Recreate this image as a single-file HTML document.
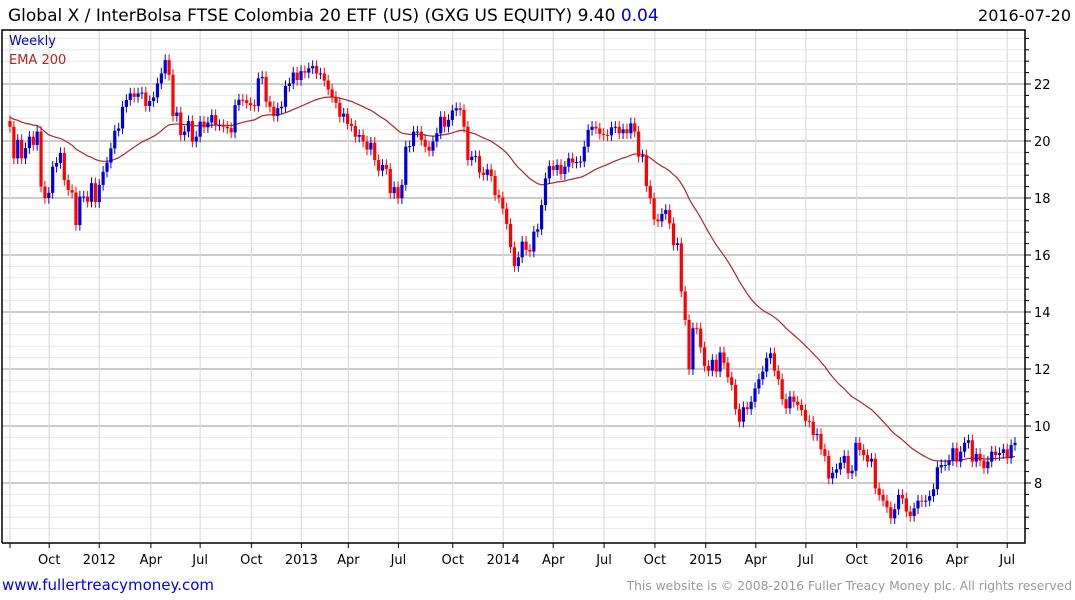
<!DOCTYPE html>
<html><head><meta charset="utf-8"><style>
body{margin:0;background:#fff;width:1075px;height:600px;overflow:hidden;font-family:"DejaVu Sans","Liberation Sans",sans-serif}
svg{display:block}
</style></head><body>
<svg id="chart" width="1075" height="600" xmlns="http://www.w3.org/2000/svg">
<text x="8" y="21" font-size="17" fill="#000">Global X / InterBolsa FTSE Colombia 20 ETF (US) (GXG US EQUITY) 9.40 <tspan fill="#0000cc">0.04</tspan></text>
<text x="1071" y="21" font-size="16" fill="#000" text-anchor="end">2016-07-20</text>
<g id="grid"></g>
<g id="ema"></g>
<g id="candles"></g>
<g id="axes"></g>
<text x="9" y="45" font-size="13" fill="#0000cc">Weekly</text>
<text x="9" y="64" font-size="13" fill="#b22222">EMA 200</text>
<text x="2" y="590" font-size="15" fill="#0000ee">www.fullertreacymoney.com</text>
<text x="1072" y="590" font-size="12.3" fill="#999" text-anchor="end">This website is © 2008-2016 Fuller Treacy Money plc. All rights reserved</text>
</svg>
<script>
const closes=[20.5,19.39,20.04,19.39,19.75,20.15,19.86,20.33,18.4,18.0,18.18,19.1,19.23,19.58,18.63,18.28,18.19,17.05,18.05,18.05,17.87,18.52,17.86,18.46,18.92,19.24,19.74,
20.36,20.44,21.2,21.44,21.67,21.55,21.67,21.7,21.23,21.4,21.53,22.02,22.37,22.84,22.32,20.88,21.0,20.21,20.33,20.7,19.98,20.15,20.68,20.48,20.65,20.91,20.56,20.56,20.5,20.45,20.3,21.26,21.45,21.43,21.33,21.26,21.23,22.2,22.25,21.38,21.2,20.88,21.15,21.2,21.93,22.02,22.4,22.14,22.45,22.4,22.55,22.63,22.37,22.37,22.12,21.81,21.55,21.34,20.85,
20.96,20.6,20.53,20.15,20.21,19.98,19.7,19.94,19.33,18.96,19.16,19.02,18.17,18.38,17.99,18.46,19.8,19.82,20.33,20.33,20.04,19.8,19.66,19.98,20.27,20.85,20.5,20.74,21.07,21.15,21.09,20.5,19.33,19.45,19.47,18.89,18.81,19.0,18.77,18.1,18.02,17.63,17.09,16.27,15.61,15.92,16.47,16.18,16.12,16.82,16.9,17.75,18.69,19.12,18.98,19.16,18.84,19.1,19.39,19.24,19.26,19.28,19.8,20.39,20.5,20.44,20.25,20.21,20.2,20.48,20.5,20.27,20.41,20.27,20.62,20.33,19.45,19.5,18.42,17.99,17.25,17.18,17.44,17.58,
17.11,16.35,16.41,14.72,13.72,11.99,13.43,13.42,12.76,12.11,11.94,12.32,11.91,12.58,12.22,11.71,11.44,10.59,10.15,10.66,10.59,10.85,11.32,11.64,11.91,12.38,12.55,11.94,11.64,10.94,10.62,11.03,10.85,10.74,10.56,10.18,10.15,9.68,9.72,9.18,8.95,8.16,8.36,8.48,8.71,8.95,8.34,8.43,9.41,9.16,8.98,8.75,8.85,7.81,7.58,7.38,7.15,6.76,7.08,7.58,7.46,7.0,6.84,7.11,7.38,7.36,7.38,7.54,7.78,8.55,8.63,8.63,8.8,9.22,8.75,9.1,9.41,9.5,8.75,9.02,8.79,8.52,8.75,9.1,8.98,9.05,9.18,8.87,9.33,9.41];
const firstOpen=20.7;
const emaSeed=20.85;
const emaPeriod=40;
const yTicks=[8,10,12,14,16,18,20,22];
const xTickIdx=[0,10.1,23.0,36.3,49.0,62.2,75.1,87.2,100.1,114.1,127.1,140.0,153.1,166.2,179.3,192.2,205.1,218.2,231.1,244.1,257.0];
const xTickLabels=["","Oct","2012","Apr","Jul","Oct","2013","Apr","Jul","Oct","2014","Apr","Jul","Oct","2015","Apr","Jul","Oct","2016","Apr","Jul"];

const NS="http://www.w3.org/2000/svg";
const L=2,R=1025,T=30,B=541;
function yS(v){return 483-(v-8)*28.5;}
function xS(i){return 10+i*(1005/(closes.length-1));}
function mk(tag,attrs,parent){const e=document.createElementNS(NS,tag);for(const k in attrs)e.setAttribute(k,attrs[k]);parent.appendChild(e);return e;}
const grid=document.getElementById('grid'),axes=document.getElementById('axes'),cg=document.getElementById('candles'),eg=document.getElementById('ema');
for(let v=6.4;v<=23.6;v+=0.4){const y=yS(v);if(y<T||y>B)continue;
 const isMajor=Math.abs(v-Math.round(v))<0.01&&Math.round(v)%2===0;
 const ln=mk('line',{x1:L,x2:R,y1:y,y2:y,stroke:isMajor?'#bbb':'#e8e8e8','stroke-width':isMajor?1.5:1},grid);
 
 
 const tk=mk('line',{x1:R,x2:R+(isMajor?6:4),y1:y,y2:y,stroke:'#000'},axes);
 
 
}
xTickIdx.forEach((ix,k)=>{const x=xS(ix);
 const g=mk('line',{x1:x,x2:x,y1:T,y2:B,stroke:'#ddd','stroke-width':1.2},grid);
 
 
 const t=mk('line',{x1:x,x2:x,y1:543,y2:548,stroke:'#000'},axes);
 
 
 const tx=mk('text',{x:x,y:564,'font-size':13,'text-anchor':'middle',fill:'#000'},axes);
 tx.textContent=xTickLabels[k];
 
 
});
yTicks.forEach(v=>{const t=mk('text',{x:R+9,y:yS(v)+5,'font-size':13,fill:'#000'},axes);
 t.textContent=String(v);
 
 
});
const fr=mk('path',{d:`M${L},543 L${L},${T} L${R},${T} L${R},543 L${L},543`,fill:'none',stroke:'#000','stroke-width':1.5},axes);


let e=emaSeed;const a=2/(emaPeriod+1);let pts=[];
closes.forEach((c,i)=>{e=e+a*(c-e);pts.push(xS(i).toFixed(1)+','+yS(e).toFixed(1));});
const pl=mk('polyline',{points:pts.join(' '),fill:'none',stroke:'#a52a2a','stroke-width':1.2},eg);


closes.forEach((c,i)=>{const o=i===0?firstOpen:closes[i-1];const up=c>=o;const col=up?'#0000dd':'#ff0000';
 const x=xS(i);const hi=Math.max(o,c)+0.2,lo=Math.min(o,c)-0.2;
 const w=mk('line',{x1:x,x2:x,y1:yS(hi),y2:yS(lo),stroke:col,'stroke-width':1},cg);
 
 
 const top=yS(Math.max(o,c)),h=Math.max(1,yS(Math.min(o,c))-top);
 const r=mk('rect',{x:x-1.6,y:top,width:3.2,height:h,fill:col},cg);
 
 
});
</script>
</body></html>
